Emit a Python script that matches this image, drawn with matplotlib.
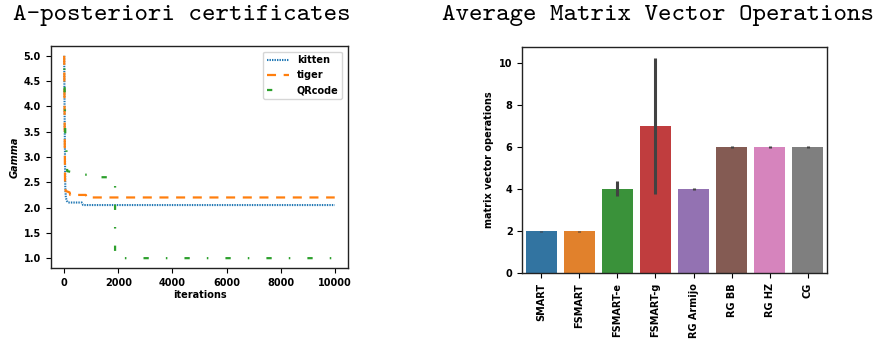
import matplotlib
matplotlib.use('agg')
import matplotlib.pyplot as plt
from matplotlib.lines import Line2D

# left panel: gamma certificates over the iterations
kitten_it = [0, 20, 40, 60, 100, 150, 650, 700, 10000]
kitten_val = [5.0, 3.5, 2.4, 2.2, 2.13, 2.1, 2.1, 2.05, 2.05]
tiger_it = [0, 30, 50, 200, 220, 450, 800, 820, 10000]
tiger_val = [5.0, 2.5, 2.33, 2.3, 2.25, 2.25, 2.25, 2.2, 2.2]
qr_it = [0, 20, 40, 100, 110, 300, 320, 950, 960, 1700, 1880, 1880, 10000]
qr_val = [5.0, 4.2, 3.4, 3.0, 2.72, 2.7, 2.65, 2.65, 2.6, 2.6, 2.6, 1.0, 1.0]

# right panel: average matrix vector operations
methods = ['SMART', 'FSMART', 'FSMART-e', 'FSMART-g', 'RG Armijo', 'RG BB', 'RG HZ', 'CG']
mv_ops = [2, 2, 4, 7, 4, 6, 6, 6]
ci_low = [1.97, 1.97, 3.65, 3.75, 3.97, 5.97, 5.97, 5.97]
ci_high = [2.03, 2.03, 4.4, 10.25, 4.03, 6.03, 6.03, 6.03]
bar_colors = ['#3274a1', '#e1812c', '#3a923a', '#c03d3e',
              '#9372b2', '#845b53', '#d684bd', '#7f7f7f']

plt.rcParams['font.weight'] = 'bold'
plt.rcParams['font.size'] = 7.0
plt.rcParams['lines.scale_dashes'] = False
plt.rcParams['axes.linewidth'] = 1.0
plt.rcParams['axes.edgecolor'] = '#222222'

fig = plt.figure(figsize=(8.83, 3.39), dpi=100)

# ---- left
qr_dash = (3.8, 12.3, 1.1, 12.3)
ax1 = fig.add_axes([0.0574, 0.2086, 0.337, 0.6566])
l1, = ax1.plot(kitten_it, kitten_val, color='#1f77b4', lw=1.5, dashes=(1.0, 0.8), label='kitten')
l2, = ax1.plot(tiger_it, tiger_val, color='#ff7f0e', lw=1.6, dashes=(6.5, 5.5), label='tiger')
ax1.plot(qr_it, qr_val, color='#2ca02c', lw=1.6, linestyle=(7.0, qr_dash))
# legend proxy so the handle starts with the dash
l3 = Line2D([], [], color='#2ca02c', lw=1.6, linestyle=(0, qr_dash), label='QRcode')
ax1.set_xlabel('iterations', fontweight='bold', labelpad=1.5)
ax1.set_ylabel('Gamma', fontweight='bold', fontstyle='italic')
ax1.yaxis.set_label_coords(-0.106, 0.5)
ax1.legend(handles=[l1, l2, l3], loc='upper right', fontsize=7.0, handlelength=2.3,
           borderaxespad=0.6)

# ---- right
ax2 = fig.add_axes([0.5915, 0.1938, 0.3447, 0.6684])
pos = list(range(len(methods)))
ax2.bar(pos, mv_ops, width=0.8, color=bar_colors)
ax2.vlines(pos, ci_low, ci_high, color='#424242', lw=2.2)
ax2.set_xlim(-0.5, 7.5)
ax2.set_xticks(pos)
ax2.set_xticklabels(methods, rotation=90)
ax2.set_ylabel('matrix vector operations', fontweight='bold')
ax2.yaxis.set_label_coords(-0.093, 0.5)

fig.text(0.206, 0.941, 'A-posteriori certificates', family='cmtt10', fontsize=18.5,
         fontweight='normal', ha='center', va='baseline')
fig.text(0.745, 0.941, 'Average Matrix Vector Operations', family='cmtt10', fontsize=18.5,
         fontweight='normal', ha='center', va='baseline')

fig.savefig('out.png', dpi=100)
